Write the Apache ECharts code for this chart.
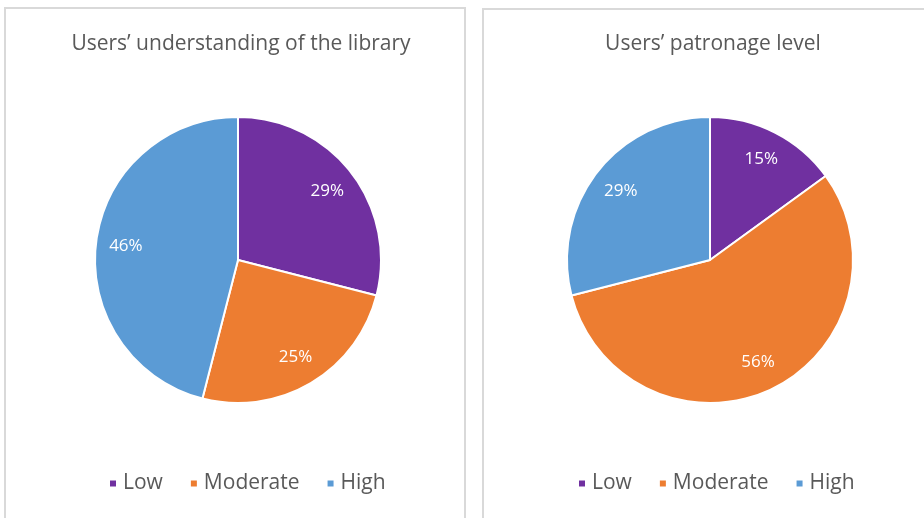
<!DOCTYPE html>
<html>
<head>
<meta charset="utf-8">
<script src="https://cdn.jsdelivr.net/npm/echarts@6/dist/echarts.min.js"></script>
<style>
html,body{margin:0;padding:0;background:#fff;}
#c{width:924px;height:518px;}
</style>
</head>
<body>
<div id="c"></div>
<script>
const categories = ['Low', 'Moderate', 'High'];
const understandingValues = [29, 25, 46];
const patronageValues = [15, 56, 29];
const titles = ['Users\u2019 understanding of the library', 'Users\u2019 patronage level'];
const colors = ['#7030A0', '#ED7D31', '#5B9BD5'];

const FONT = '"Open Sans", sans-serif';
const chart = echarts.init(document.getElementById('c'), null, {renderer: 'canvas'});

function toData(vals) {
  return categories.map((n, i) => ({name: n, value: vals[i]}));
}

const centers = [[238, 260], [710, 260]];
const R = 143;
const sets = [understandingValues, patronageValues];

const series = [];
sets.forEach((vals, k) => {
  series.push({
    type: 'pie',
    center: centers[k],
    radius: [0, R],
    startAngle: 90,
    clockwise: true,
    silent: true,
    label: {show: false},
    labelLine: {show: false},
    itemStyle: {borderColor: '#fff', borderWidth: 2},
    data: toData(vals)
  });
});
sets.forEach((vals, k) => {
  series.push({
    type: 'pie',
    center: centers[k],
    radius: [77, R],
    startAngle: 90,
    clockwise: true,
    silent: true,
    itemStyle: {color: 'rgba(0,0,0,0)', borderWidth: 0},
    labelLine: {show: false},
    label: {
      show: true,
      position: 'inside',
      formatter: p => p.value + '%',
      color: '#fff',
      fontFamily: FONT,
      fontSize: 17
    },
    data: toData(vals)
  });
});

const legendCommon = {
  data: categories,
  icon: 'rect',
  itemWidth: 8,
  itemHeight: 8,
  itemGap: 26,
  selectedMode: false,
  textStyle: {color: '#595959', fontSize: 21, fontFamily: FONT, padding: [0, 0, 0, 1]},
  top: 468
};

chart.setOption({
  backgroundColor: '#fff',
  color: colors,
  animation: false,
  title: [
    {text: titles[0], left: 236, top: 29, textAlign: 'center',
     textStyle: {color: '#595959', fontSize: 21, fontWeight: 'normal', fontFamily: FONT}},
    {text: titles[1], left: 708, top: 29, textAlign: 'center',
     textStyle: {color: '#595959', fontSize: 21, fontWeight: 'normal', fontFamily: FONT}}
  ],
  legend: [
    Object.assign({}, legendCommon, {left: 103}),
    Object.assign({}, legendCommon, {left: 572})
  ],
  graphic: [
    {type: 'rect', shape: {x: 5, y: 8, width: 460, height: 520}, z: -1,
     style: {fill: '#fff', stroke: '#d9d9d9', lineWidth: 2}},
    {type: 'rect', shape: {x: 483, y: 9, width: 460, height: 520}, z: -1,
     style: {fill: '#fff', stroke: '#d9d9d9', lineWidth: 2}}
  ],
  series: series
});
</script>
</body>
</html>
